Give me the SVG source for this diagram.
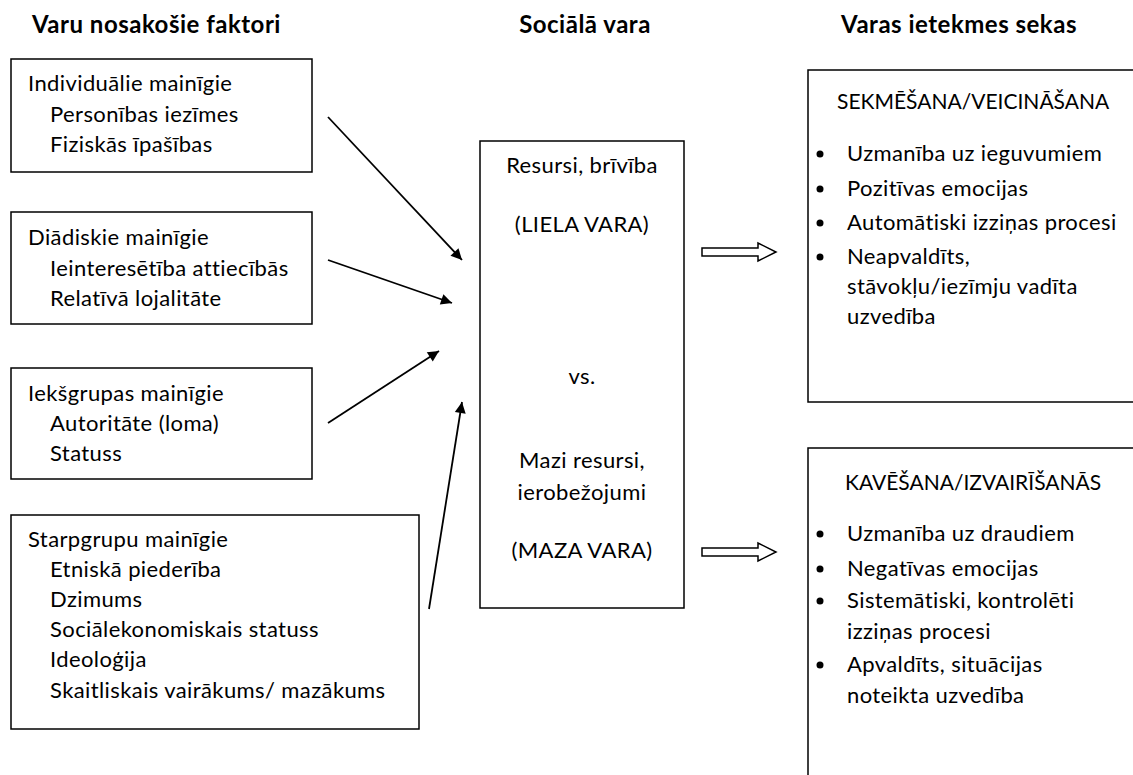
<svg xmlns="http://www.w3.org/2000/svg" width="1133" height="775" viewBox="0 0 1133 775">
<defs>
<style>
text{font-family:Lato,"Liberation Sans",sans-serif;font-size:22px;letter-spacing:0.4px;fill:#000}
.t{font-weight:bold;font-size:24px;letter-spacing:0.5px}
.h{font-size:21px;letter-spacing:0}
.c{text-anchor:middle}
.box{fill:#fff;stroke:#000;stroke-width:1.5}
.ln{stroke:#000;stroke-width:1.8;fill:none;marker-end:url(#ah)}
.hol{fill:#fff;stroke:#000;stroke-width:1.5}
</style>
<marker id="ah" viewBox="0 0 10 10" refX="10" refY="5" markerWidth="14" markerHeight="11" markerUnits="userSpaceOnUse" orient="auto" overflow="visible">
<path d="M0,0 L10,5 L0,10 z" fill="#000"/>
</marker>
</defs>
<rect width="1133" height="775" fill="#fff"/>
<g id="titles">
<text class="t" x="32" y="33">Varu nosakošie faktori</text>
<text class="t c" x="585" y="33">Sociālā vara</text>
<text class="t c" x="959" y="33">Varas ietekmes sekas</text>
</g>
<g id="n1">
<rect class="box" x="11" y="59" width="301" height="113"/>
<text x="28" y="91">Individuālie mainīgie</text>
<text x="50" y="122">Personības iezīmes</text>
<text x="50" y="152">Fiziskās īpašības</text>
</g>
<g id="n2">
<rect class="box" x="11" y="212" width="301" height="112"/>
<text x="28" y="245">Diādiskie mainīgie</text>
<text x="50" y="276">Ieinteresētība attiecībās</text>
<text x="50" y="306">Relatīvā lojalitāte</text>
</g>
<g id="n3">
<rect class="box" x="11" y="368" width="301" height="111"/>
<text x="28" y="401">Iekšgrupas mainīgie</text>
<text x="50" y="431">Autoritāte (loma)</text>
<text x="50" y="461">Statuss</text>
</g>
<g id="n4">
<rect class="box" x="11" y="515" width="408" height="214"/>
<text x="28" y="547">Starpgrupu mainīgie</text>
<text x="50" y="577">Etniskā piederība</text>
<text x="50" y="607">Dzimums</text>
<text x="50" y="637">Sociālekonomiskais statuss</text>
<text x="50" y="667">Ideoloģija</text>
<text x="50" y="698">Skaitliskais vairākums/ mazākums</text>
</g>
<g id="center">
<rect class="box" x="480" y="141" width="204" height="467"/>
<text class="c" x="582" y="173">Resursi, brīvība</text>
<text class="c" x="582" y="232">(LIELA VARA)</text>
<text class="c" x="582" y="384">vs.</text>
<text class="c" x="582" y="468">Mazi resursi,</text>
<text class="c" x="582" y="500">ierobežojumi</text>
<text class="c" x="582" y="558">(MAZA VARA)</text>
</g>
<g id="r1">
<rect class="box" x="808" y="70" width="400" height="332"/>
<text class="h" x="837" y="109">SEKMĒŠANA/VEICINĀŠANA</text>
<circle cx="820" cy="154" r="3.5"/>
<text x="847" y="161">Uzmanība uz ieguvumiem</text>
<circle cx="820" cy="189" r="3.5"/>
<text x="847" y="196">Pozitīvas emocijas</text>
<circle cx="820" cy="223" r="3.5"/>
<text x="847" y="230">Automātiski izziņas procesi</text>
<circle cx="820" cy="257" r="3.5"/>
<text x="847" y="264">Neapvaldīts,</text>
<text x="847" y="294">stāvokļu/iezīmju vadīta</text>
<text x="847" y="324">uzvedība</text>
</g>
<g id="r2">
<rect class="box" x="808" y="448" width="400" height="400"/>
<text class="h" x="845" y="490">KAVĒŠANA/IZVAIRĪŠANĀS</text>
<circle cx="820" cy="534" r="3.5"/>
<text x="847" y="541">Uzmanība uz draudiem</text>
<circle cx="820" cy="569" r="3.5"/>
<text x="847" y="576">Negatīvas emocijas</text>
<circle cx="820" cy="601" r="3.5"/>
<text x="847" y="608">Sistemātiski, kontrolēti</text>
<text x="847" y="639">izziņas procesi</text>
<circle cx="820" cy="665" r="3.5"/>
<text x="847" y="672">Apvaldīts, situācijas</text>
<text x="847" y="703">noteikta uzvedība</text>
</g>
<g id="connectors">
<line class="ln" x1="328" y1="117" x2="462" y2="260"/>
<line class="ln" x1="328" y1="260" x2="452" y2="303"/>
<line class="ln" x1="328" y1="423" x2="439" y2="351"/>
<line class="ln" x1="429" y1="609" x2="462" y2="402"/>
<polygon class="hol" points="702,248 758,248 758,243 776,252 758,261 758,256 702,256"/>
<polygon class="hol" points="702,548 758,548 758,543 776,552 758,561 758,556 702,556"/>
</g>
</svg>
